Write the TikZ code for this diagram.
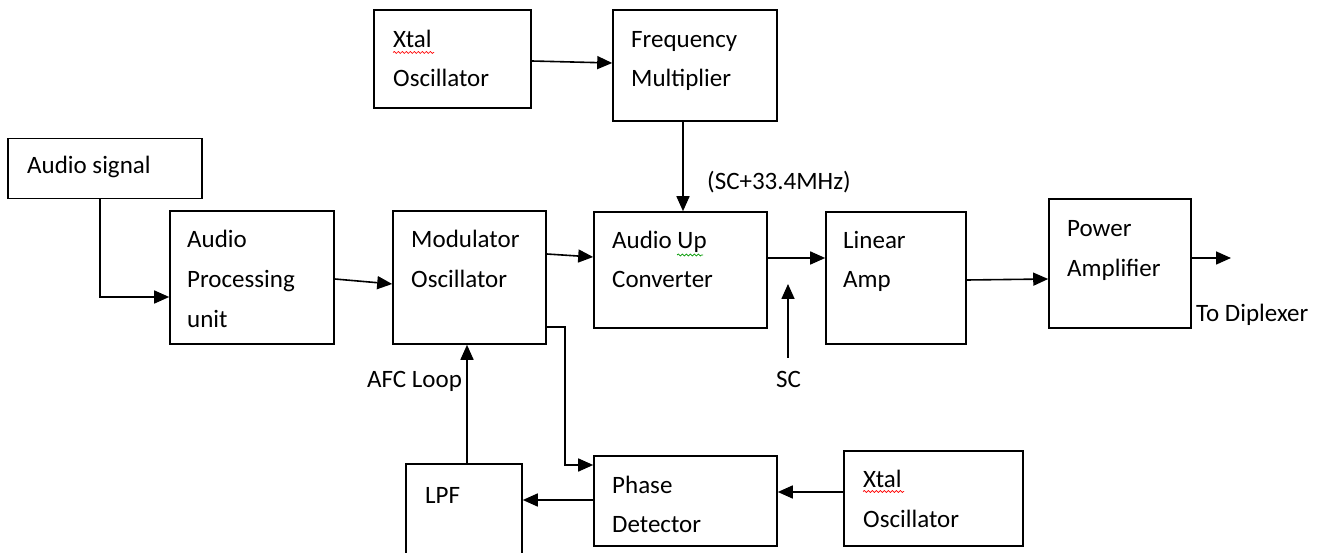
\documentclass[tikz,border=0pt]{standalone}
\usepackage{fontspec}
\setmainfont{Carlito}
\usetikzlibrary{arrows.meta,decorations.pathmorphing}
\begin{document}
\begin{tikzpicture}[x=1pt,y=-1pt,
  box/.style={draw, line width=1.6pt, inner sep=0pt},
  lbl/.style={anchor=base west, inner sep=0pt, font=\fontsize{25}{30}\selectfont},
  arr/.style={line width=1.6pt, -{Triangle[length=15pt,width=13pt]}},
  wav/.style={decorate, decoration={snake, amplitude=1pt, segment length=4pt}, line width=0.7pt}]
\useasboundingbox (0,0) rectangle (1323,553);
\fill[white] (0,0) rectangle (1323,553);
\clip (0,0) rectangle (1323,553);
% boxes
\node[box, minimum width=157pt, minimum height=98pt]  (xt1) at (452.5,59) {};
\node[box, minimum width=164pt, minimum height=111pt] (fm)  at (695,65.5) {};
\node[box, minimum width=194pt, minimum height=60pt]  (as)  at (105,168.5) {};
\node[box, minimum width=164pt, minimum height=133pt] (ap)  at (252,277.5) {};
\node[box, minimum width=153pt, minimum height=133pt] (mod) at (469.5,277.5) {};
\node[box, minimum width=173pt, minimum height=116pt] (up)  at (680.5,270) {};
\node[box, minimum width=140pt, minimum height=132pt] (la)  at (896,278) {};
\node[box, minimum width=142pt, minimum height=129pt] (pa)  at (1120,263.5) {};
\node[box, minimum width=116pt, minimum height=136pt] (lpf) at (464,532) {};
\node[box, minimum width=183pt, minimum height=90pt]  (pd)  at (685.5,501) {};
\node[box, minimum width=179pt, minimum height=95pt]  (xt2) at (933.5,498.5) {};
% texts
\node[lbl] (t1a) at (393,48) {Xtal};
\node[lbl] (t1b) at (393,87) {Oscillator};
\node[lbl] (t2a) at (631,48) {Frequency};
\node[lbl] (t2b) at (631,87) {Multiplier};
\node[lbl] (t3)  at (27,174) {Audio signal};
\node[lbl] (t4a) at (187,248) {Audio};
\node[lbl] (t4b) at (187,288) {Processing};
\node[lbl] (t4c) at (187,328) {unit};
\node[lbl] (t5a) at (411,248) {Modulator};
\node[lbl] (t5b) at (411,288) {Oscillator};
\node[lbl] (t6a) at (612,249) {Audio Up};
\node[lbl] (t6b) at (612,288) {Converter};
\node[lbl] (t7a) at (843,249) {Linear};
\node[lbl] (t7b) at (843,288) {Amp};
\node[lbl] (t8a) at (1067,237) {Power};
\node[lbl] (t8b) at (1067,277) {Amplifier};
\node[lbl] (t9)  at (425,503) {LPF};
\node[lbl] (t10a) at (612,493) {Phase};
\node[lbl] (t10b) at (612,532) {Detector};
\node[lbl] (t11a) at (863,487) {Xtal};
\node[lbl] (t11b) at (863,527) {Oscillator};
\node[lbl] (l1) at (707,190) {(SC+33.4MHz)};
\node[lbl] (l2) at (776,387) {SC};
\node[lbl] (l3) at (367,388) {AFC Loop};
\node[lbl] (l4) at (1196,322) {To Diplexer};
% spell-check marks
\draw[wav, red] (393,52.5) -- (434,52.5);
\draw[wav, red] (863,491.5) -- (904,491.5);
\draw[wav, green!60!black] (677,255) -- (703,255);
% connectors
\coordinate (out) at (1231,258);
\coordinate (scA) at (788,358);
\coordinate (scB) at (788,284);
\draw[arr] ([yshift=-2pt]xt1.east) -- ([yshift=2.5pt]fm.west);
\draw[arr] ([xshift=-12pt]fm.south) -- ([xshift=-12pt]fm.south |- up.north);
\draw[arr] ([xshift=-5pt]as.south) |- ([yshift=-19.5pt]ap.west);
\draw[arr] ([yshift=-1.5pt]ap.east) -- ([yshift=-6.5pt]mod.west);
\draw[arr] ([yshift=23.5pt]mod.east) -- ([yshift=13pt]up.west);
\draw[arr] ([yshift=12pt]up.east) -- ([yshift=20pt]la.west);
\draw[arr] ([yshift=-2pt]la.east) -- ([yshift=-15.5pt]pa.west);
\draw[arr] ([yshift=5.5pt]pa.east) -- (out);
\draw[arr] (scA) -- (scB);
\draw[arr] ([yshift=-49.5pt]mod.east) -- ++(18,0) |- ([yshift=36pt]pd.west);
\draw[arr] ([yshift=6.5pt]xt2.west) -- ([yshift=9pt]pd.east);
\draw[arr] ([yshift=1pt]pd.west) -- ([yshift=32pt]lpf.east);
\draw[arr] ([xshift=3pt]lpf.north) -- ([xshift=-2.5pt]mod.south);
\end{tikzpicture}
\end{document}
